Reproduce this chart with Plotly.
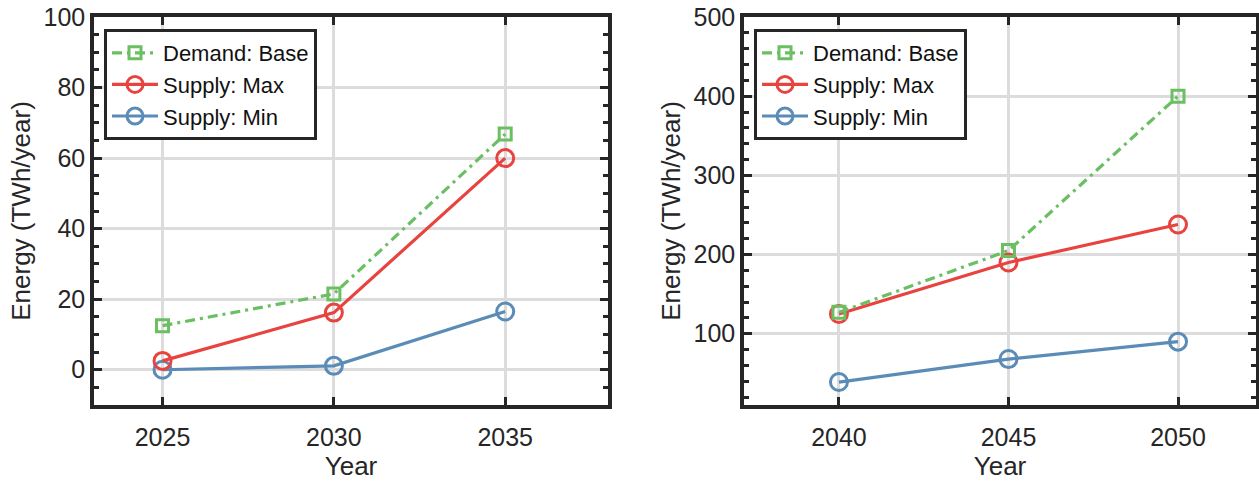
import plotly.graph_objects as go

# ---- data ----
years_a = [2025, 2030, 2035]
years_b = [2040, 2045, 2050]
demand_base_a = [12.5, 21.5, 66.8]
supply_max_a = [2.5, 16.2, 60.0]
supply_min_a = [0.0, 1.1, 16.5]
demand_base_b = [127, 205, 400]
supply_max_b = [125, 190, 238]
supply_min_b = [39, 68, 90]
names = ["Demand: Base", "Supply: Max", "Supply: Min"]

GREEN = "#6BBF63"
RED = "#E8433F"
BLUE = "#5B8CB7"
INK = "#262626"
FONT = "Liberation Sans, Arial, sans-serif"

fig = go.Figure()

def add_panel(xs, dem, smax, smin, xa, ya, leg):
    fig.add_trace(go.Scatter(x=xs, y=smin, name=names[2], mode="lines+markers",
                             line=dict(color=BLUE, width=3.2),
                             marker=dict(symbol="circle-open", size=17, line=dict(width=3, color=BLUE)),
                             xaxis=xa, yaxis=ya, legend=leg))
    fig.add_trace(go.Scatter(x=xs, y=smax, name=names[1], mode="lines+markers",
                             line=dict(color=RED, width=3.2),
                             marker=dict(symbol="circle-open", size=17, line=dict(width=3, color=RED)),
                             xaxis=xa, yaxis=ya, legend=leg))
    fig.add_trace(go.Scatter(x=xs, y=dem, name=names[0], mode="lines+markers",
                             line=dict(color=GREEN, width=3.2, dash="10px,5px,3px,5px"),
                             marker=dict(symbol="square-open", size=12, line=dict(width=3, color=GREEN)),
                             xaxis=xa, yaxis=ya, legend=leg))

add_panel(years_a, demand_base_a, supply_max_a, supply_min_a, "x", "y", "legend")
add_panel(years_b, demand_base_b, supply_max_b, supply_min_b, "x2", "y2", "legend2")

W, H = 1259, 482
def px(x): return x / W
def py(y): return 1 - y / H

common_axis = dict(
    showline=True, linecolor=INK, linewidth=3.5, mirror="allticks",
    ticks="inside", ticklen=8, tickwidth=3, tickcolor=INK,
    showgrid=True, gridcolor="#DCDCDC", gridwidth=2.5,
    zeroline=False, automargin=False, ticklabeloverflow="allow",
    tickfont=dict(family=FONT, size=25, color=INK),
    title_font=dict(family=FONT, size=26, color=INK),
)

xa = dict(common_axis, tickvals=years_a, range=[2023, 2038], ticklabelstandoff=7,
          domain=[px(94), px(608)], anchor="y", title_text="Year", title_standoff=4)
xb = dict(common_axis, tickvals=years_b, range=[2037.2, 2052.3], ticklabelstandoff=7,
          domain=[px(744), px(1256)], anchor="y2", title_text="Year", title_standoff=4)
ya = dict(common_axis, range=[-10, 100], tickvals=[0, 20, 40, 60, 80, 100],
          domain=[py(405), py(17)], anchor="x", title_text="Energy (TWh/year)", title_standoff=6,
          minor=dict(ticks="inside", ticklen=5, tickwidth=2.5, tickcolor=INK, dtick=5, tick0=0, showgrid=False))
yb = dict(common_axis, range=[10, 500], tickvals=[100, 200, 300, 400, 500],
          domain=[py(405), py(17)], anchor="x2", title_text="Energy (TWh/year)", title_standoff=6,
          minor=dict(ticks="inside", ticklen=5, tickwidth=2.5, tickcolor=INK, dtick=20, tick0=0, showgrid=False))

leg_common = dict(bgcolor="white", bordercolor=INK, borderwidth=3,
                  font=dict(family=FONT, size=22, color="#111111"),
                  traceorder="reversed", xanchor="left", yanchor="top",
                  tracegroupgap=0, itemwidth=46)

fig.update_layout(
    width=W, height=H,
    margin=dict(l=0, r=0, t=0, b=0, pad=0),
    paper_bgcolor="white", plot_bgcolor="white",
    font=dict(family=FONT, color=INK),
    xaxis=xa, xaxis2=xb, yaxis=ya, yaxis2=yb,
    legend=dict(leg_common, x=px(104), y=py(29)),
    legend2=dict(leg_common, x=px(754), y=py(29)),
)

fig.write_html("out.html", config={"displayModeBar": False},
               post_script="document.body.style.margin='0';document.body.style.overflow='hidden';")
